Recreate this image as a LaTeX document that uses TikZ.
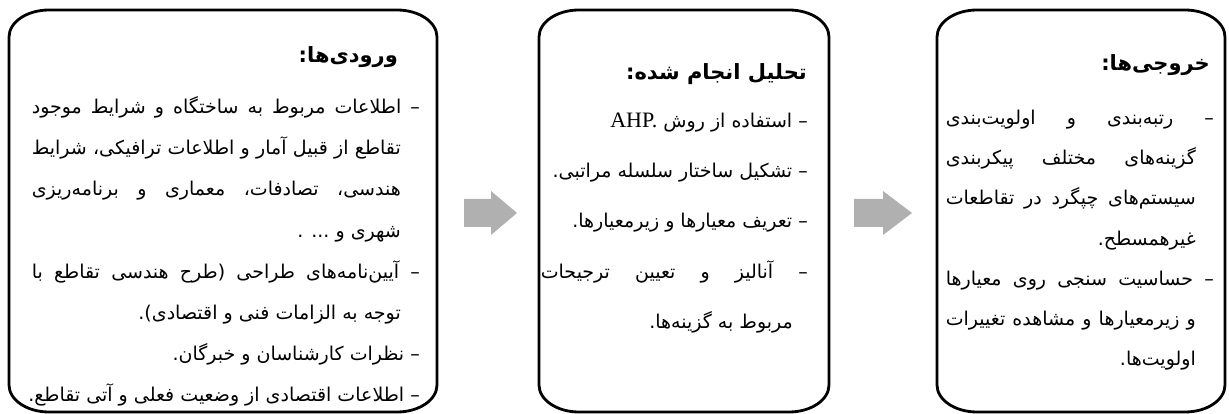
\documentclass[tikz,border=0pt]{standalone}
\usepackage{fontspec}
\setmainfont{Liberation Serif}
\newfontfamily\fa[Script=Arabic]{DejaVu Sans}
\newfontfamily\lat{Liberation Serif}
\TeXXeTstate=1
\definecolor{arrowgray}{HTML}{B0B0B0}
\newcommand\jl[2]{\hbox to #1{\spaceskip=.28em plus 1fil\relax\xspaceskip=\spaceskip #2}}
\newcommand\roundbox[1]{\draw[boxline] ([yshift=-27pt]#1.north west) -- ([yshift=27pt]#1.south west)
  arc[start angle=180,end angle=270,x radius=40pt,y radius=27pt] -- ([xshift=-40pt]#1.south east)
  arc[start angle=270,end angle=360,x radius=40pt,y radius=27pt] -- ([yshift=-27pt]#1.north east)
  arc[start angle=0,end angle=90,x radius=40pt,y radius=27pt] -- ([xshift=40pt]#1.north west)
  arc[start angle=90,end angle=180,x radius=40pt,y radius=27pt] -- cycle;}
\tikzset{
  boxarea/.style={inner sep=0pt, outer sep=0pt, draw=none, minimum height=402pt},
  boxline/.style={line width=2.8pt, draw=black},
  body/.style={font=\fa\fontsize{19}{19}\selectfont, inner sep=0pt, anchor=base east},
  ttl/.style={font=\fa\bfseries\fontsize{21}{21}\selectfont, inner sep=0pt, anchor=base east},
  arrowfill/.style={fill=arrowgray, draw=none}
}
\begin{document}
\begin{tikzpicture}[x=1pt,y=-1pt]
\useasboundingbox (0,0) rectangle (1229,414);
\fill[white] (0,0) rectangle (1229,414);
% boxes
\node[boxarea, minimum width=428pt] (inputs) at (223,211) {};
\node[boxarea, minimum width=290pt] (analysis) at (684,211) {};
\node[boxarea, minimum width=288pt] (outputs) at (1081,211) {};
\roundbox{inputs}
\roundbox{analysis}
\roundbox{outputs}
% arrows
\coordinate (a1) at (464,213);
\coordinate (a2) at (854,213);
\fill[arrowfill] (a1) ++(0,-14) -- ++(27,0) -- ++(0,-8) -- ++(26,22) -- ++(-26,22) -- ++(0,-8) -- ++(-27,0) -- cycle;
\fill[arrowfill] (a2) ++(0,-14) -- ++(29,0) -- ++(0,-8) -- ++(29,22) -- ++(-29,22) -- ++(0,-8) -- ++(-29,0) -- cycle;
% box 1 text
\node[ttl] (t1) at (398,63) {\beginR ورودی^^^^200cها:\endR};
\node[body] (i1) at (420,114) {\jl{388pt}{\beginR – اطلاعات مربوط به ساختگاه و شرایط موجود\endR}};
\node[body] (i2) at (401,155) {\jl{369pt}{\beginR تقاطع از قبیل آمار و اطلاعات ترافیکی، شرایط\endR}};
\node[body] (i3) at (401,196) {\jl{369pt}{\beginR هندسی، تصادفات، معماری و برنامه^^^^200cریزی\endR}};
\node[body] (i4) at (401,237) {\beginR شهری و ... .\endR};
\node[body] (i5) at (420,278) {\jl{388pt}{\beginR – آیین^^^^200cنامه^^^^200cهای طراحی (طرح هندسی تقاطع با\endR}};
\node[body] (i6) at (401,319) {\beginR توجه به الزامات فنی و اقتصادی).\endR};
\node[body] (i7) at (420,360) {\beginR – نظرات کارشناسان و خبرگان.\endR};
\node[body] (i8) at (420,401) {\beginR – اطلاعات اقتصادی از وضعیت فعلی و آتی تقاطع.\endR};
% box 2 text
\node[ttl] (t2) at (807,80) {\beginR تحلیل انجام شده:\endR};
\node[body] (n1) at (808,128) {\beginR – استفاده از روش {\lat\fontsize{22}{22}\selectfont AHP.}\endR};
\node[body] (n2) at (808,178) {\beginR – تشکیل ساختار سلسله مراتبی.\endR};
\node[body] (n3) at (808,228) {\beginR – تعریف معیارها و زیرمعیارها.\endR};
\node[body] (n4) at (808,278) {\jl{267pt}{\beginR – آنالیز و تعیین ترجیحات\endR}};
\node[body] (n5) at (793,328) {\beginR مربوط به گزینه^^^^200cها.\endR};
% box 3 text
\node[ttl] (t3) at (1210,71) {\beginR خروجی^^^^200cها:\endR};
\node[body] (o1) at (1214,125) {\jl{268pt}{\beginR – رتبه^^^^200cبندی و اولویت^^^^200cبندی\endR}};
\node[body] (o2) at (1196,165) {\jl{250pt}{\beginR گزینه^^^^200cهای مختلف پیکربندی\endR}};
\node[body] (o3) at (1196,205) {\jl{250pt}{\beginR سیستم^^^^200cهای چپگرد در تقاطعات\endR}};
\node[body] (o4) at (1196,245) {\beginR غیرهمسطح.\endR};
\node[body] (o5) at (1214,285) {\jl{268pt}{\beginR – حساسیت سنجی روی معیارها\endR}};
\node[body] (o6) at (1196,325) {\jl{250pt}{\beginR و زیرمعیارها و مشاهده تغییرات\endR}};
\node[body] (o7) at (1196,365) {\beginR اولویت^^^^200cها.\endR};
\end{tikzpicture}
\end{document}
